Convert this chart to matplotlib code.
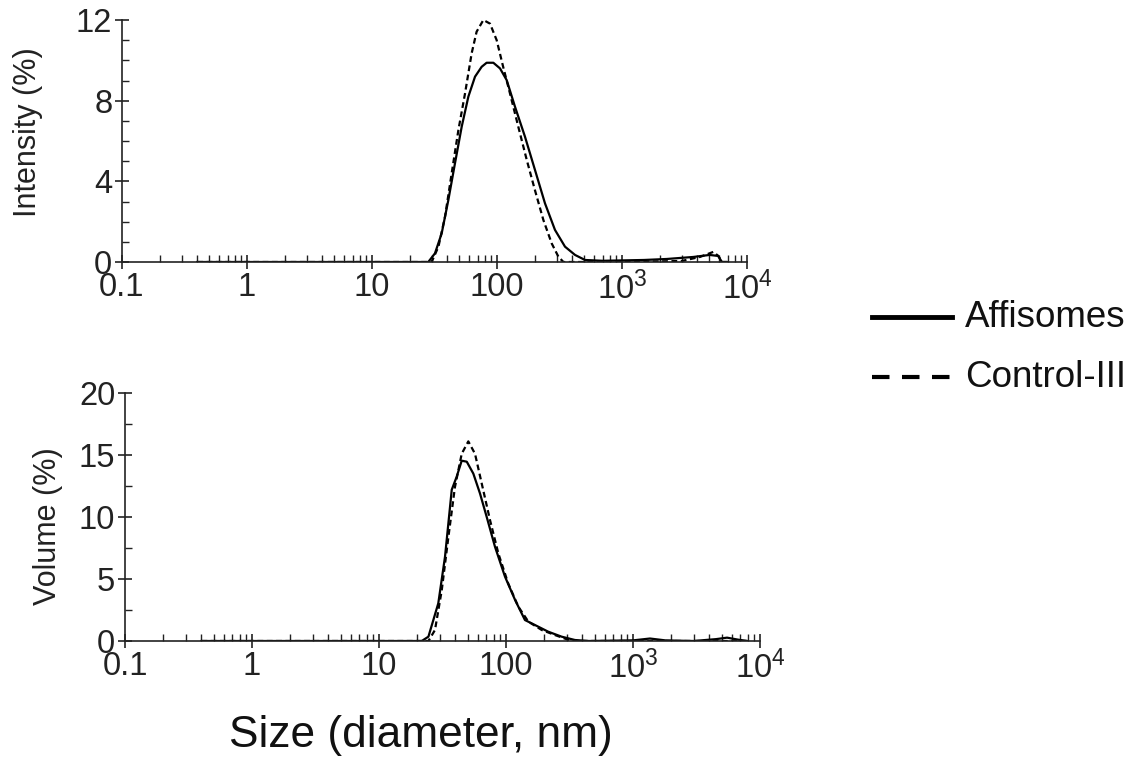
import matplotlib
matplotlib.use("Agg")
import matplotlib.pyplot as plt
from matplotlib.lines import Line2D
from matplotlib.ticker import FixedLocator, LogLocator, NullFormatter, MultipleLocator

plt.rcParams['font.family'] = ['Liberation Sans', 'DejaVu Sans']
plt.rcParams['mathtext.fontset'] = 'custom'
plt.rcParams['mathtext.rm'] = 'Liberation Sans'
plt.rcParams['mathtext.it'] = 'Liberation Sans'

# ---- data ----
int_aff_x = [0.4, 10, 22, 28.2, 31.9, 36.1, 40.8, 46.1, 52.2, 59.0, 66.7, 75.4, 82.6, 93.5, 105.7,
             119.5, 139.3, 167.5, 201.4, 242, 291, 350, 421, 506, 700, 1500, 2280, 3720, 5020,
             5880, 6300, 7000]
int_aff_y = [0, 0, 0, 0, 0.43, 1.42, 3.07, 4.89, 6.71, 8.2, 9.19, 9.68, 9.88, 9.88, 9.6,
             9.02, 7.7, 6.21, 4.56, 2.91, 1.59, 0.76, 0.35, 0.1, 0.06, 0.1, 0.15, 0.25, 0.35,
             0.3, 0.0, 0.0]

int_ctl_x = [0.4, 10, 22, 30, 34, 38.4, 43.4, 49.1, 55.5, 62.7, 68.7, 77.8, 87.9, 99.4, 112,
             127, 148, 173, 201, 235, 274, 310, 340, 1000, 3000, 4200, 5370, 5900, 6300, 7000]
int_ctl_y = [0, 0, 0, 0, 0.76, 2.25, 4.4, 6.54, 8.36, 10.35, 11.42, 12.0, 11.82, 11.0, 9.68,
             8.36, 6.71, 5.06, 3.57, 2.08, 0.92, 0.26, 0, 0, 0.05, 0.25, 0.5, 0.3, 0.0, 0.0]

vol_aff_x = [0.4, 10, 21.7, 24.5, 29.3, 33.1, 37.4, 40.9, 44.8, 49.1, 55.3, 62.4, 70.5, 81.9,
             98.2, 118, 141, 169, 215, 274, 349, 450, 600, 1000, 1360, 1800, 3000, 4500, 5500,
             6800, 8000]
vol_aff_y = [0, 0, 0, 0.35, 3.04, 6.8, 12.2, 13.25, 14.54, 14.46, 13.5, 11.9, 10.0, 7.6,
             5.19, 3.3, 1.69, 1.29, 0.75, 0.35, 0.08, 0.0, 0.02, 0.05, 0.2, 0.05, 0.0, 0.15,
             0.27, 0.1, 0.0]

vol_ctl_x = [0.4, 10, 24.5, 27.6, 31.2, 35.2, 39.6, 44.8, 50.5, 57.0, 64.4, 74.8, 87, 104,
             125, 150, 191, 243, 309, 360, 1000, 8000]
vol_ctl_y = [0, 0, 0, 0.89, 4.1, 8.4, 12.4, 15.1, 16.1, 15.1, 12.7, 9.76, 7.07, 4.65,
             2.77, 1.56, 0.89, 0.48, 0.1, 0.0, 0.0, 0.0]

xtick_vals = [0.1, 1, 10, 100, 1000, 10000]
xtick_labels = ['0.1', '1', '10', '100', r'$\mathregular{10^3}$', r'$\mathregular{10^4}$']
top_yticks = [0, 4, 8, 12]
bot_yticks = [0, 5, 10, 15, 20]
legend_labels = ['Affisomes', 'Control-III']

W, H = 1133, 761
fig = plt.figure(figsize=(W / 100, H / 100), dpi=100)

def px_axes(l, r, b, t):
    return fig.add_axes([l / W, 1 - b / H, (r - l) / W, (b - t) / H])

ax1 = px_axes(122, 747, 262, 20)
ax2 = px_axes(125, 760, 641, 393)

dash = (0, (2.6, 1.6))
lw = 1.6
ax1.plot(int_aff_x, int_aff_y, color='black', lw=lw, solid_joinstyle='round')
ax1.plot(int_ctl_x, int_ctl_y, color='black', lw=lw, linestyle=dash)
ax2.plot(vol_aff_x, vol_aff_y, color='black', lw=lw, solid_joinstyle='round')
ax2.plot(vol_ctl_x, vol_ctl_y, color='black', lw=lw, linestyle=dash)

for ax, yt, ymax, minor in [(ax1, top_yticks, 12, 1), (ax2, bot_yticks, 20, 2.5)]:
    ax.set_xscale('log')
    ax.set_xlim(0.1, 10000)
    ax.set_ylim(0, ymax)
    ax.spines['top'].set_visible(False)
    ax.spines['right'].set_visible(False)
    for s in ('left', 'bottom'):
        ax.spines[s].set_linewidth(1.2)
        ax.spines[s].set_color('#222222')
    ax.xaxis.set_major_locator(FixedLocator(xtick_vals))
    ax.set_xticklabels(xtick_labels)
    ax.xaxis.set_minor_locator(LogLocator(base=10, subs=range(2, 10), numticks=20))
    ax.xaxis.set_minor_formatter(NullFormatter())
    ax.set_yticks(yt)
    ax.yaxis.set_minor_locator(MultipleLocator(minor))
    ax.tick_params(axis='x', which='major', direction='inout', length=10, width=1.2,
                   labelsize=23.5, pad=2, colors='#222222')
    ax.tick_params(axis='x', which='minor', direction='in', length=5, width=1.0, colors='#222222')
    ax.tick_params(axis='y', which='major', direction='inout', length=10, width=1.2,
                   labelsize=23.5, pad=2, colors='#222222')
    ax.tick_params(axis='y', which='minor', direction='in', length=5, width=1.0, colors='#222222')
    ax.patch.set_visible(False)

fig.text(28 / W, 1 - 132 / H, 'Intensity (%)', rotation=90, ha='center', va='center',
         fontsize=22, color='#222222')
fig.text(48 / W, 1 - 526 / H, 'Volume (%)', rotation=90, ha='center', va='center',
         fontsize=22, color='#222222')
fig.text(421 / W, 1 - 735 / H, 'Size (diameter, nm)', ha='center', va='center',
         fontsize=31.9, color='#111111')

# legend
fig.add_artist(Line2D([872 / W, 952 / W], [1 - 317 / H, 1 - 317 / H], color='black', lw=3.5,
                      transform=fig.transFigure))
fig.add_artist(Line2D([872 / W, 952 / W], [1 - 377 / H, 1 - 377 / H], color='black', lw=3.0,
                      linestyle=(0, (4.2, 3.0)), transform=fig.transFigure))
fig.text(965 / W, 1 - 317 / H, legend_labels[0], ha='left', va='center', fontsize=26.5, color='#111111')
fig.text(965 / W, 1 - 377 / H, legend_labels[1], ha='left', va='center', fontsize=26.5, color='#111111')

fig.savefig('out.png', dpi=100)
